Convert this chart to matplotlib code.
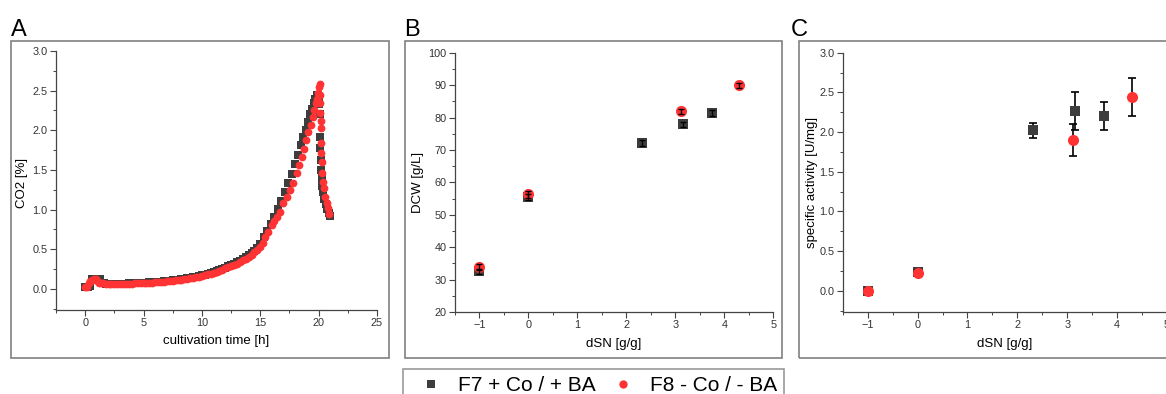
import matplotlib
matplotlib.use("Agg")
import matplotlib.pyplot as plt
from matplotlib.patches import Rectangle
from matplotlib.lines import Line2D
from matplotlib.ticker import MultipleLocator, FormatStrFormatter

plt.rcParams['font.family'] = ['Liberation Sans', 'DejaVu Sans']

W, H = 1166, 394

# ---- data ----
# panel A: CO2 in off-gas over cultivation time
f8_time = [0.0, 0.15, 0.3, 0.45, 0.6, 0.75, 0.9, 1.05, 1.2, 1.35, 1.5, 1.75, 2.0, 2.25, 2.5, 2.75,
           3.0, 3.25, 3.5, 3.75, 4.0, 4.25, 4.5, 4.75, 5.0, 5.25, 5.5, 5.75, 6.0, 6.25, 6.5, 6.75,
           7.0, 7.25, 7.5, 7.75, 8.0, 8.25, 8.5, 8.75, 9.0, 9.25, 9.5, 9.75, 10.0, 10.25, 10.5, 10.75,
           11.0, 11.25, 11.5, 11.75, 12.0, 12.25, 12.5, 12.75, 13.0, 13.25, 13.5, 13.75, 14.0, 14.25,
           14.5, 14.75, 15.0, 15.2, 15.41, 15.7, 15.98, 16.2, 16.41, 16.7, 16.98, 17.32, 17.55, 17.84,
           18.12, 18.35, 18.55, 18.75, 18.92, 19.12, 19.35, 19.49, 19.61, 19.78, 19.89, 19.98, 20.06,
           20.08, 20.12, 20.14, 20.15, 20.17, 20.19, 20.2, 20.21, 20.25, 20.3, 20.36, 20.42, 20.55,
           20.68, 20.8, 20.92]
f8_co2 = [0.02, 0.03, 0.07, 0.10, 0.11, 0.12, 0.12, 0.10, 0.08, 0.07, 0.07, 0.066, 0.065, 0.065, 0.065, 0.065,
          0.066, 0.066, 0.067, 0.068, 0.069, 0.070, 0.071, 0.073, 0.075, 0.077, 0.079, 0.081, 0.083, 0.086, 0.089, 0.092,
          0.095, 0.099, 0.103, 0.107, 0.112, 0.117, 0.122, 0.128, 0.134, 0.141, 0.148, 0.156, 0.165, 0.174, 0.184, 0.195,
          0.206, 0.218, 0.231, 0.245, 0.26, 0.275, 0.29, 0.305, 0.32, 0.34, 0.36, 0.38, 0.405, 0.43,
          0.46, 0.49, 0.53, 0.58, 0.66, 0.72, 0.81, 0.86, 0.91, 0.97, 1.08, 1.16, 1.25, 1.33,
          1.46, 1.56, 1.67, 1.77, 1.88, 1.98, 2.07, 2.17, 2.26, 2.34, 2.40, 2.47, 2.55,
          2.59, 2.45, 2.34, 2.22, 2.12, 2.03, 1.84, 1.72, 1.60, 1.46, 1.35, 1.27, 1.16,
          1.08, 1.02, 0.95]

f7_time = [0.0, 0.2, 0.4, 0.55, 0.7, 0.85, 1.0, 1.15, 1.3, 1.45, 1.6, 1.75, 2.0, 2.25, 2.5, 2.75,
           3.0, 3.25, 3.5, 3.75, 4.0, 4.25, 4.5, 4.75, 5.0, 5.25, 5.5, 5.75, 6.0, 6.25, 6.5, 6.75,
           7.0, 7.25, 7.5, 7.75, 8.0, 8.25, 8.5, 8.75, 9.0, 9.25, 9.5, 9.75, 10.0, 10.25, 10.5, 10.75,
           11.0, 11.25, 11.5, 11.75, 12.0, 12.25, 12.5, 12.75, 13.0, 13.25, 13.5, 13.75, 14.0, 14.25,
           14.5, 14.75, 15.0, 15.3, 15.6, 15.9, 16.2, 16.5, 16.8, 17.1, 17.4, 17.7, 18.0, 18.25,
           18.5, 18.7, 18.9, 19.1, 19.3, 19.45, 19.6, 19.72, 19.84, 19.95, 20.02,
           20.06, 20.1, 20.12, 20.15, 20.18, 20.22, 20.27, 20.33, 20.4, 20.5, 20.62, 20.75, 20.88, 21.0]
f7_co2 = [0.03, 0.03, 0.04, 0.12, 0.13, 0.13, 0.13, 0.13, 0.12, 0.08, 0.07, 0.068, 0.067, 0.067, 0.067, 0.067,
          0.068, 0.068, 0.069, 0.070, 0.071, 0.072, 0.074, 0.076, 0.078, 0.080, 0.082, 0.085, 0.087, 0.090, 0.093, 0.096,
          0.099, 0.103, 0.107, 0.112, 0.117, 0.122, 0.128, 0.134, 0.140, 0.147, 0.155, 0.163, 0.172, 0.182, 0.192, 0.203,
          0.215, 0.227, 0.240, 0.254, 0.27, 0.285, 0.30, 0.318, 0.335, 0.355, 0.375, 0.40, 0.425, 0.455,
          0.485, 0.52, 0.57, 0.65, 0.73, 0.82, 0.91, 1.01, 1.11, 1.22, 1.33, 1.45, 1.58, 1.69,
          1.81, 1.91, 2.01, 2.10, 2.20, 2.27, 2.34, 2.40, 2.45, 2.45, 2.42,
          2.33, 2.20, 1.92, 1.78, 1.62, 1.50, 1.40, 1.30, 1.22, 1.14, 1.07, 1.01, 0.96, 0.92]

# panel B: dry cell weight vs dSN
f7_dsn = [-1, 0, 2.31, 3.15, 3.74]
f7_dcw = [32.6, 55.5, 72.1, 77.9, 81.3]
f7_dcw_err = [0.8, 0.8, 0.9, 0.8, 0.9]
f8_dsn = [-1, 0, 3.12, 4.30]
f8_dcw = [34.0, 56.3, 81.9, 90.0]
f8_dcw_err = [0.9, 1.0, 0.8, 0.8]

# panel C: specific activity vs dSN
f7_act = [-0.01, 0.23, 2.02, 2.27, 2.20]
f7_act_err = [0.03, 0.04, 0.09, 0.24, 0.18]
f8_act = [0.0, 0.22, 1.90, 2.44]
f8_act_err = [0.04, 0.04, 0.20, 0.235]

black = '#3d3d3d'
red = '#ff3333'
tick_col = '#333333'


def fax(left, top, right, bottom):
    return [left / W, 1 - bottom / H, (right - left) / W, (bottom - top) / H]


def style(ax):
    for s in ['top', 'right']:
        ax.spines[s].set_visible(False)
    for s in ['left', 'bottom']:
        ax.spines[s].set_color('#444444')
        ax.spines[s].set_linewidth(0.9)
    ax.tick_params(which='major', direction='out', length=4, width=0.8, colors='#444444',
                   labelsize=7.8, labelcolor=tick_col, pad=2)
    ax.tick_params(which='minor', direction='out', length=2.5, width=0.7, colors='#444444')


fig = plt.figure(figsize=(W / 100, H / 100), dpi=100)

# frames around the panels
for (l, t, r, b) in [(11, 41, 389, 358), (405, 41, 782, 358), (799, 41, 1172, 358)]:
    fig.patches.append(Rectangle((l / W, 1 - b / H), (r - l) / W, (b - t) / H, fill=False,
                                 edgecolor='#808080', linewidth=1.2, transform=fig.transFigure))

# ---- A ----
axA = fig.add_axes(fax(56, 51, 377, 310))
axA.plot(f7_time, f7_co2, 's', color=black, ms=5.2, mew=0, zorder=2)
axA.plot(f8_time, f8_co2, 'o', color=red, ms=5.6, mew=0, zorder=3)
axA.set_xlim(-2.5, 25)
axA.set_ylim(-0.265, 3.0)
axA.xaxis.set_major_locator(MultipleLocator(5))
axA.xaxis.set_minor_locator(MultipleLocator(2.5))
axA.yaxis.set_major_locator(MultipleLocator(0.5))
axA.yaxis.set_minor_locator(MultipleLocator(0.25))
axA.yaxis.set_major_formatter(FormatStrFormatter('%.1f'))
style(axA)
axA.set_xlabel('cultivation time [h]', fontsize=9.5)
axA.set_ylabel('CO2 [%]', fontsize=9.5)
axA.xaxis.set_label_coords(0.5, -0.095)
axA.yaxis.set_label_coords(-0.087, 0.49)

# ---- B ----
axB = fig.add_axes(fax(455, 52.7, 773.3, 312))
axB.plot(f7_dsn, f7_dcw, 's', color=black, ms=7.5, mew=0, zorder=2)
axB.plot(f8_dsn, f8_dcw, 'o', color=red, ms=8, mew=0, zorder=3)
axB.errorbar(f7_dsn, f7_dcw, yerr=f7_dcw_err, fmt='none', ecolor='black', elinewidth=1.0,
             capsize=2.5, capthick=1.0, zorder=4)
axB.errorbar(f8_dsn, f8_dcw, yerr=f8_dcw_err, fmt='none', ecolor='black', elinewidth=1.0,
             capsize=2.5, capthick=1.0, zorder=4)
axB.set_xlim(-1.5, 5)
axB.set_ylim(20, 100)
axB.xaxis.set_major_locator(MultipleLocator(1))
axB.xaxis.set_minor_locator(MultipleLocator(0.5))
axB.yaxis.set_major_locator(MultipleLocator(10))
axB.yaxis.set_minor_locator(MultipleLocator(5))
style(axB)
axB.set_xlabel('dSN [g/g]', fontsize=9.5)
axB.set_ylabel('DCW [g/L]', fontsize=9.5)
axB.xaxis.set_label_coords(0.5, -0.1)
axB.yaxis.set_label_coords(-0.098, 0.5)

# ---- C ----
axC = fig.add_axes(fax(842.7, 52.7, 1167.1, 311.7))
axC.errorbar(f7_dsn, f7_act, yerr=f7_act_err, fmt='none', ecolor='black', elinewidth=1.2,
             capsize=3, capthick=1.2, zorder=2)
axC.plot(f7_dsn, f7_act, 's', color=black, ms=7.5, mew=0, zorder=3)
axC.errorbar(f8_dsn, f8_act, yerr=f8_act_err, fmt='none', ecolor='black', elinewidth=1.2,
             capsize=3, capthick=1.2, zorder=4)
axC.plot(f8_dsn, f8_act, 'o', color=red, ms=8, mew=0, zorder=5)
axC.set_xlim(-1.5, 5)
axC.set_ylim(-0.265, 3.0)
axC.xaxis.set_major_locator(MultipleLocator(1))
axC.xaxis.set_minor_locator(MultipleLocator(0.5))
axC.yaxis.set_major_locator(MultipleLocator(0.5))
axC.yaxis.set_minor_locator(MultipleLocator(0.25))
axC.yaxis.set_major_formatter(FormatStrFormatter('%.1f'))
style(axC)
axC.set_xlabel('dSN [g/g]', fontsize=9.5)
axC.set_ylabel('specific activity [U/mg]', fontsize=9.5)
axC.xaxis.set_label_coords(0.5, -0.1)
axC.yaxis.set_label_coords(-0.076, 0.5)

# panel letters
for lbl, x in [('A', 11), ('B', 404), ('C', 791)]:
    fig.text(x / W, 1 - 36 / H, lbl, fontsize=17, ha='left', va='baseline')

# shared legend
handles = [Line2D([], [], ls='none', marker='s', color=black, ms=5.5, mew=0),
           Line2D([], [], ls='none', marker='o', color=red, ms=6, mew=0)]
leg = fig.legend(handles, ['F7 + Co / + BA', 'F8 - Co / - BA'], ncol=2, loc='upper left',
                 bbox_to_anchor=(403 / W, 1 - 369 / H), fontsize=15, frameon=True, fancybox=False,
                 edgecolor='#808080', handletextpad=0.3, columnspacing=0.3, borderpad=0.35,
                 borderaxespad=0)
leg.get_frame().set_linewidth(1.2)

fig.savefig('out.png', dpi=100)
